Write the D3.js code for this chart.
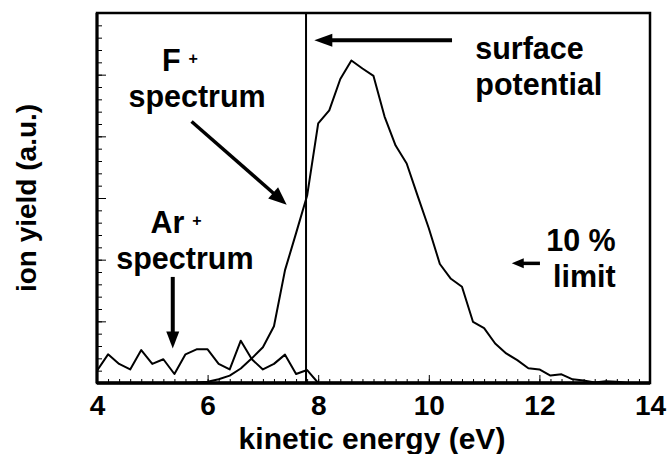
<!DOCTYPE html>
<html>
<head>
<meta charset="utf-8">
<script src="https://cdn.jsdelivr.net/npm/d3@7"></script>
<style>
  body { margin: 0; background: #fff; }
  svg text { font-family: "Liberation Sans", Arial, sans-serif; font-weight: bold; fill: #000; }
</style>
</head>
<body>
<svg id="graph" width="667" height="454"></svg>
<script>
// F+ spectrum (kinetic energy in eV, ion yield a.u.)
const energyF = [5.4, 5.6, 5.8, 6.0, 6.2, 6.4, 6.6, 6.8, 7.0, 7.2, 7.4, 7.6, 7.8, 8.0, 8.2, 8.4, 8.6, 8.8, 9.0, 9.2,
  9.4, 9.6, 9.8, 10.0, 10.2, 10.4, 10.6, 10.8, 11.0, 11.2, 11.4, 11.6, 11.8, 12.0, 12.2, 12.4, 12.6, 12.8, 13.0, 13.2, 13.4, 13.6];
const yieldF = [0, 0, 0.01, 0.02, 0.06, 0.12, 0.235, 0.40, 0.58, 0.92, 1.83, 2.43, 3.04, 4.21, 4.42, 4.93, 5.23, 5.10, 4.98, 4.32,
  3.85, 3.56, 3.03, 2.51, 1.93, 1.69, 1.56, 0.99, 0.89, 0.64, 0.48, 0.37, 0.24, 0.22, 0.12, 0.14, 0.06, 0.04, 0.01, 0.03, 0.02, 0];

// Ar+ spectrum
const energyAr = [4.0, 4.2, 4.4, 4.6, 4.8, 5.0, 5.2, 5.4, 5.6, 5.8, 6.0, 6.2, 6.4, 6.6, 6.8, 7.0, 7.2, 7.4, 7.6, 7.8, 8.0];
const yieldAr = [0.20, 0.465, 0.31, 0.22, 0.535, 0.31, 0.385, 0.146, 0.465, 0.546, 0.546, 0.31, 0.22, 0.686, 0.385, 0.22, 0.31, 0.46, 0.146, 0.21, 0];

const surfacePotential = 7.78;
const xTicks = [4, 6, 8, 10, 12, 14];

const svg = d3.select('svg#graph');
const margin = {top: 13, right: 17, bottom: 71, left: 97};
const width = 667 - margin.left - margin.right;
const height = 454 - margin.top - margin.bottom;

const x = d3.scaleLinear().domain([4, 14]).range([margin.left, margin.left + width]);
const y = d3.scaleLinear().domain([0, 6]).range([margin.top + height, margin.top]);

const line = d3.line()
  .x(d => x(d[0]))
  .y(d => y(d[1]));

// frame
svg.append('rect')
  .attr('x', x(4)).attr('y', y(6))
  .attr('width', x(14) - x(4)).attr('height', y(0) - y(6))
  .attr('fill', 'none').attr('stroke', '#000').attr('stroke-width', 2.5);

// x axis: minor + major ticks pointing inward
const minorX = d3.range(40, 141, 2).map(v => v / 10);
svg.append('g')
  .attr('transform', `translate(0,${y(0)})`)
  .call(d3.axisBottom(x).tickValues(minorX).tickSize(-4).tickFormat(''))
  .call(g => g.select('.domain').remove())
  .selectAll('line').attr('stroke-width', 1);

svg.append('g')
  .attr('transform', `translate(0,${y(0)})`)
  .call(d3.axisBottom(x).tickValues(xTicks).tickSize(-8).tickPadding(12).tickFormat(d3.format('d')))
  .call(g => g.select('.domain').remove())
  .call(g => g.selectAll('line').attr('stroke-width', 1))
  .call(g => g.selectAll('text').attr('font-size', 28).attr('font-family', '"Liberation Sans", Arial, sans-serif').attr('font-weight', 'bold'));

// y axis ticks (no labels)
const minorY = d3.range(0, 61, 2).map(v => v / 10);
svg.append('g')
  .attr('transform', `translate(${x(4)},0)`)
  .call(d3.axisLeft(y).tickValues(minorY).tickSize(-5).tickFormat(''))
  .call(g => g.select('.domain').remove())
  .selectAll('line').attr('stroke-width', 1);
svg.append('g')
  .attr('transform', `translate(${x(4)},0)`)
  .call(d3.axisLeft(y).tickValues([1, 2, 3, 4, 5]).tickSize(-9).tickFormat(''))
  .call(g => g.select('.domain').remove())
  .selectAll('line').attr('stroke-width', 1);

// heavier bottom and left axis lines
svg.append('line').attr('x1', x(4)).attr('x2', x(14)).attr('y1', y(0)).attr('y2', y(0))
  .attr('stroke', '#000').attr('stroke-width', 3.5);
svg.append('line').attr('x1', x(4)).attr('x2', x(4)).attr('y1', y(0)).attr('y2', y(6))
  .attr('stroke', '#000').attr('stroke-width', 3);

// axis titles
svg.append('text')
  .attr('x', 372).attr('y', 449)
  .attr('text-anchor', 'middle').attr('font-size', 30)
  .text('kinetic energy (eV)');
svg.append('text')
  .attr('transform', `translate(36,${(y(0) + y(6)) / 2}) rotate(-90)`)
  .attr('text-anchor', 'middle').attr('font-size', 28)
  .text('ion yield (a.u.)');

// clip for data
svg.append('clipPath').attr('id', 'plot-clip')
  .append('rect').attr('x', x(4)).attr('y', y(6)).attr('width', x(14) - x(4)).attr('height', y(0) - y(6));

const plot = svg.append('g').attr('clip-path', 'url(#plot-clip)');

plot.append('path')
  .datum(d3.zip(energyF, yieldF))
  .attr('d', line)
  .attr('fill', 'none').attr('stroke', '#000').attr('stroke-width', 2).attr('stroke-linejoin', 'round');

plot.append('path')
  .datum(d3.zip(energyAr, yieldAr))
  .attr('d', line)
  .attr('fill', 'none').attr('stroke', '#000').attr('stroke-width', 2).attr('stroke-linejoin', 'round');

// surface potential line
svg.append('line')
  .attr('x1', x(surfacePotential)).attr('x2', x(surfacePotential))
  .attr('y1', y(6)).attr('y2', y(0))
  .attr('stroke', '#000').attr('stroke-width', 2);

// arrows
function arrow (x1, y1, x2, y2, w, headLen, headHalf) {
  const dx = x2 - x1, dy = y2 - y1;
  const len = Math.hypot(dx, dy);
  const ux = dx / len, uy = dy / len;
  const bx = x2 - ux * headLen, by = y2 - uy * headLen;
  svg.append('line')
    .attr('x1', x1).attr('y1', y1).attr('x2', bx + ux * 2).attr('y2', by + uy * 2)
    .attr('stroke', '#000').attr('stroke-width', w);
  svg.append('path')
    .attr('d', `M${x2},${y2}L${bx - uy * headHalf},${by + ux * headHalf}L${bx + uy * headHalf},${by - ux * headHalf}Z`)
    .attr('fill', '#000');
}
arrow(x(10.42), y(5.56), x(7.93), y(5.56), 4, 18, 6.5);
arrow(x(5.71), y(4.24), x(7.43), y(2.89), 3.5, 18, 7.5);
arrow(x(5.37), y(1.72), x(5.37), y(0.56), 4, 17, 6.5);
arrow(x(12.01), y(1.94), x(11.5), y(1.94), 3.5, 12, 5);

// annotations
function label (tx, ty, anchor, str, plus) {
  const t = svg.append('text').attr('x', tx).attr('y', ty)
    .attr('text-anchor', anchor).attr('font-size', 30.5);
  t.append('tspan').text(str);
  if (plus) t.append('tspan').attr('font-size', 16).attr('dx', 8).attr('dy', -7).text('+');
}
label(x(5.5), y(5.06), 'middle', 'F', true);
label(x(5.81), y(4.475), 'middle', 'spectrum');
label(x(10.84), y(5.25), 'start', 'surface');
label(x(10.84), y(4.67), 'start', 'potential');
label(x(13.38), y(2.14), 'end', '10 %');
label(x(13.38), y(1.56), 'end', 'limit');
label(x(5.43), y(2.43), 'middle', 'Ar', true);
label(x(5.59), y(1.85), 'middle', 'spectrum');
</script>
</body>
</html>
